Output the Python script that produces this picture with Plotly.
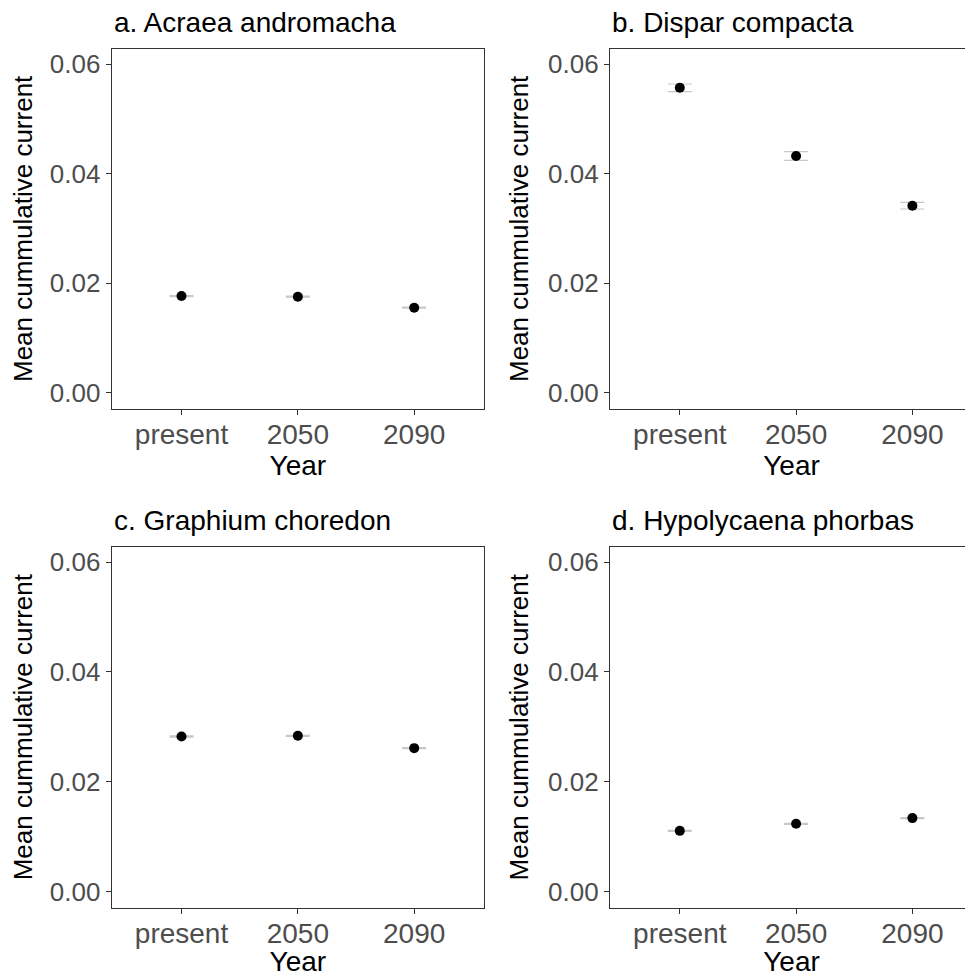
import plotly.graph_objects as go

years = ["present", "2050", "2090"]
panel_titles = ["a. Acraea andromacha", "b. Dispar compacta",
                "c. Graphium choredon", "d. Hypolycaena phorbas"]
mean_a = [0.01766, 0.01754, 0.01553]
mean_b = [0.0557, 0.04323, 0.03416]
mean_c = [0.02824, 0.02837, 0.02612]
mean_d = [0.01107, 0.01235, 0.01339]
err_a = [0.0001, 0.0001, 0.0001]
err_b = [0.0007, 0.0008, 0.0006]
err_c = [0.0001, 0.0001, 0.0001]
err_d = [0.0001, 0.0001, 0.0001]
y_ticks = [0.00, 0.02, 0.04, 0.06]
y_ticktext = ["0.00", "0.02", "0.04", "0.06"]

# page body has an 8px margin; size the figure to fill the rest of the window
OFF = 8
W, H = 973 - OFF, 977 - OFF
means = [mean_a, mean_b, mean_c, mean_d]
errs = [err_a, err_b, err_c, err_d]

# pixel boxes in window coords (left, right, top, bottom)
boxes = [(111.7, 484, 49, 408.7), (610, 973, 49, 408.7),
         (111.7, 484, 546.7, 907.7), (610, 973, 546.7, 907.7)]
xranges = [[-0.6, 2.6], [-0.6, 2.521], [-0.6, 2.6], [-0.6, 2.521]]

fig = go.Figure()
FONT = "Liberation Sans, Arial, sans-serif"
for i in range(4):
    ax = "" if i == 0 else str(i + 1)
    fig.add_trace(go.Scatter(
        x=years, y=means[i], mode="markers",
        marker=dict(color="black", size=10),
        error_y=dict(type="data", array=errs[i], color="#c8c8c8", thickness=1.2, width=12),
        xaxis="x" + ax, yaxis="y" + ax, showlegend=False))
    l, r, t, b = [v - OFF for v in boxes[i]]
    right_panel = i in (1, 3)
    fig.update_layout(**{
        "xaxis" + ax: dict(
            domain=[l / W, min(r / W, 1.0)], anchor="y" + ax, type="category",
            categoryorder="array", categoryarray=years,
            range=xranges[i], showgrid=False, zeroline=False,
            showline=True, linecolor="#333333", linewidth=1.3, mirror=True,
            ticks="outside", ticklen=5, tickcolor="#333333",
            ticklabelstandoff=-4,
            tickfont=dict(size=28, color="#4d4d4d", family=FONT),
            title=dict(text="Year", font=dict(size=28, color="black", family=FONT), standoff=0),
        ),
        "yaxis" + ax: dict(
            domain=[1 - b / H, 1 - t / H], anchor="x" + ax,
            range=[-0.00292, 0.06279], showgrid=False, zeroline=False,
            showline=True, linecolor="#333333", linewidth=1.3,
            mirror=(not right_panel),
            tickvals=y_ticks, ticktext=y_ticktext,
            ticks="outside", ticklen=5, tickcolor="#333333",
            tickfont=dict(size=26, color="#4d4d4d", family=FONT),
            title=dict(text="Mean cummulative current", font=dict(size=26, color="black", family=FONT), standoff=11),
        ),
    })
    fig.add_annotation(text=panel_titles[i], xref="paper", yref="paper",
                       x=l / W, y=1 - (t - 26) / H, xanchor="left", yanchor="middle",
                       showarrow=False, font=dict(size=28, color="black", family=FONT))

fig.update_layout(width=W, height=H, margin=dict(l=0, r=0, t=0, b=0),
                  plot_bgcolor="white", paper_bgcolor="white")
fig.write_html("out.html")
